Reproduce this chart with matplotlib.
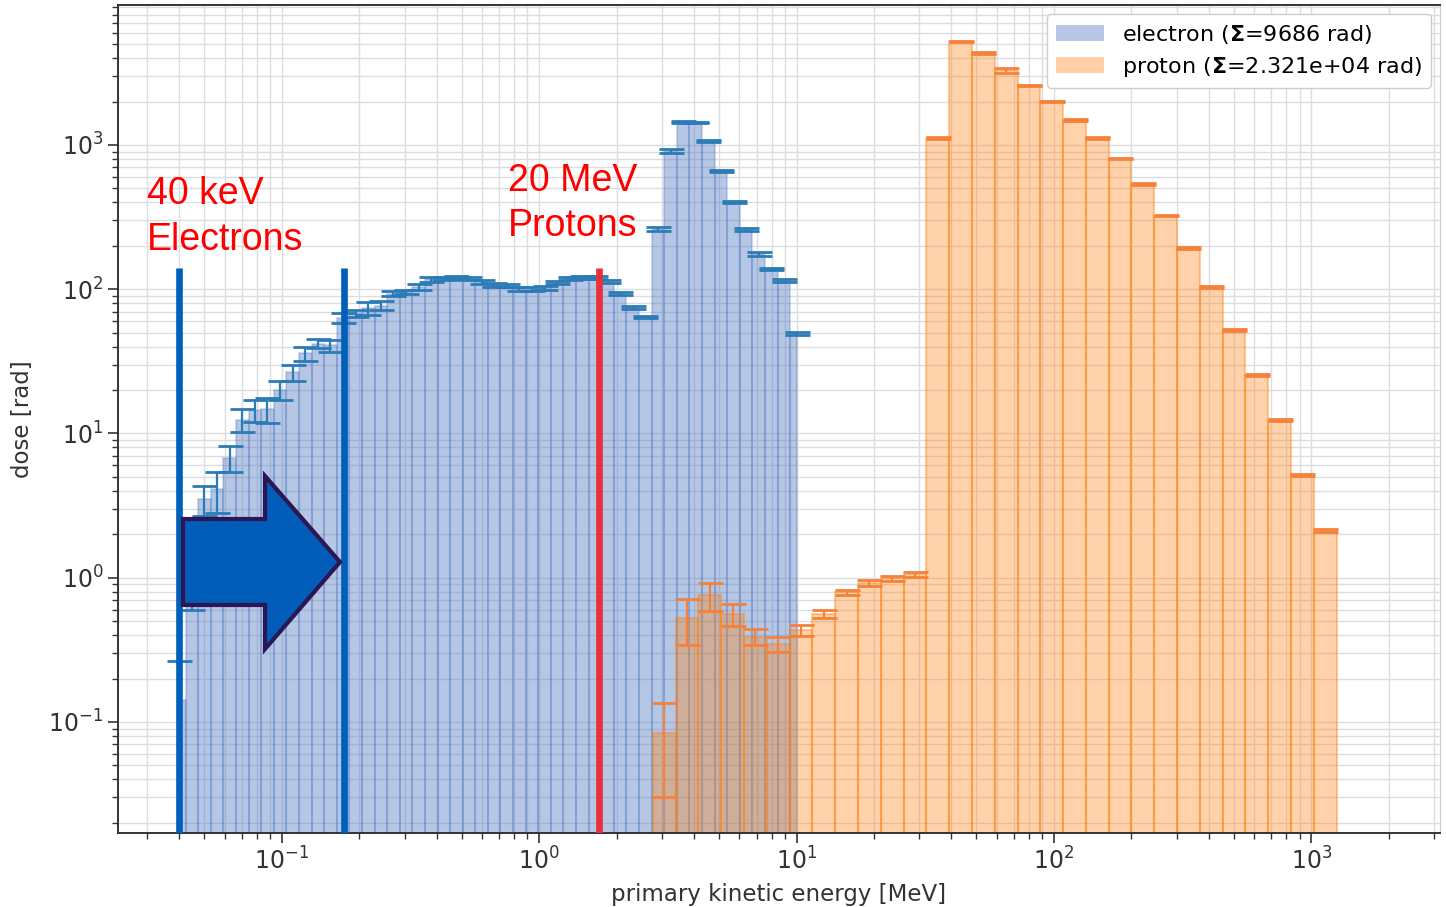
import numpy as np
import matplotlib
matplotlib.use("Agg")
import matplotlib.pyplot as plt
from matplotlib.patches import Patch, Polygon

# electron dose per bin (rad), bin centres log-spaced 0.04 .. 10 MeV
el_dose = [0.14, 0.9, 3.5, 4.1, 6.8, 12.5, 14.5, 14.7, 20, 26.5,
           36, 42, 40.8, 63, 68, 74, 77, 93, 96, 104,
           117, 119, 120, 119, 112, 107, 106, 101, 101, 102,
           111, 119, 121, 120, 113, 93, 75, 64, 262, 908,
           1440, 1440, 1070, 664, 401, 258, 175, 138, 115, 49.5]
el_err = [0.125, 0.3, 0.8, 1.3, 1.4, 2.2, 2.5, 2.8, 3.0, 3.3,
          4.0, 3.0, 3.8, 5.0, 4.0, 8.0, 5.5, 3.5, 3.0, 5.0,
          4, 3, 3, 3, 3, 3, 3, 3, 3, 3,
          3, 3, 3, 3, 3, 2, 2, 1, 8, 25,
          20, 10, 15, 10, 6, 6, 5, 3, 3, 1]

# proton dose per bin (rad), 30 log bins 2.76 .. 1255 MeV
pr_dose = [0.083, 0.525, 0.754, 0.56, 0.39, 0.348, 0.434, 0.56, 0.79, 0.918,
           0.99, 1.057, 1122, 5230, 4325, 3290, 2588, 2005, 1490, 1120,
           805, 535, 324, 194, 104, 52, 25.6, 12.4, 5.13, 2.12]
pr_err = [0.053, 0.185, 0.164, 0.10, 0.05, 0.043, 0.04, 0.033, 0.033, 0.04,
          0.04, 0.04, 15, 60, 55, 110, 35, 25, 20, 15,
          10, 7, 4, 3, 1.5, 0.8, 0.4, 0.2, 0.08, 0.04]

el_label = r"electron ($\mathbf{\Sigma}$=9686 rad)"
pr_label = r"proton ($\mathbf{\Sigma}$=2.321e+04 rad)"

cut_electron = [0.04, 0.174]   # MeV
cut_proton = 1.71              # MeV

# bin geometry
el_centres = np.logspace(np.log10(0.04), 1, len(el_dose))
step = np.log10(el_centres[1] / el_centres[0])
el_edges = 10 ** (np.log10(0.04) + step * (np.arange(len(el_dose) + 1) - 0.5))
el_edges[0], el_edges[-1] = 0.04, 10.0
pr_edges = np.logspace(np.log10(2.763), np.log10(1255), len(pr_dose) + 1)
pr_centres = np.sqrt(pr_edges[:-1] * pr_edges[1:])

W, H = 1446, 907
fig = plt.figure(figsize=(W / 100, H / 100), dpi=100)
ax = fig.add_axes([118 / W, 74 / H, 1322 / W, 828 / H])

ax.set_xscale("log")
ax.set_yscale("log")

ax.bar(el_edges[:-1], el_dose, width=np.diff(el_edges), align="edge", bottom=1e-3,
       facecolor=(0.29, 0.45, 0.75, 0.40), edgecolor=(0.29, 0.45, 0.75, 0.25),
       linewidth=1.5, zorder=2)
ax.errorbar(el_centres, el_dose, yerr=el_err, fmt="none", ecolor="#2b7bb6",
            elinewidth=1.6, capsize=9, capthick=2.0, zorder=3)

ax.bar(pr_edges[:-1], pr_dose, width=np.diff(pr_edges), align="edge", bottom=1e-3,
       facecolor=(1.0, 0.50, 0.055, 0.35), edgecolor=(1.0, 0.50, 0.055, 0.40),
       linewidth=1.5, zorder=2)
ax.errorbar(pr_centres, pr_dose, yerr=pr_err, fmt="none", ecolor="#f5813a",
            elinewidth=1.6, capsize=9, capthick=2.0, zorder=3)

ax.set_xlim(10 ** -1.636, 10 ** 3.5)
ax.set_ylim(0.0170, 9344)

ax.grid(True, which="both", color="#dcdde0", linewidth=1.0, zorder=0)
ax.set_axisbelow(True)
ax.tick_params(which="both", direction="out", colors="#333333", labelsize=17)
ax.tick_params(which="major", length=7, width=1.2)
ax.tick_params(which="minor", length=4, width=1.0)
for s in ["left", "bottom", "top"]:
    ax.spines[s].set_color("#333333")
    ax.spines[s].set_linewidth(1.4)
ax.spines["right"].set_color("#cccccc")

ax.set_xlabel("primary kinetic energy [MeV]", fontsize=16.5, color="#333333", labelpad=6)
ax.set_ylabel("dose [rad]", fontsize=16.5, color="#333333", labelpad=10)

handles = [Patch(facecolor="#b7c7e6", label=el_label),
           Patch(facecolor="#ffd0aa", label=pr_label)]
leg = ax.legend(handles=handles, loc="upper right", fontsize=16, handlelength=2.2,
                labelspacing=0.4, borderaxespad=0.4, framealpha=1.0, edgecolor="#cccccc")
leg.set_zorder(6)

# annotations
ax.vlines(cut_electron, 1e-3, 140, colors="#0060b9", linewidth=4.8, zorder=5)
ax.vlines([cut_proton], 1e-3, 140, colors="#ec2d3a", linewidth=4.8, zorder=5)


def fpt(px, py):
    return px / W, 1 - py / H


arrow_px = [(183, 519), (265, 519), (265, 476), (340, 562), (265, 649), (265, 605), (183, 605)]
arrow = Polygon([fpt(*p) for p in arrow_px], closed=True, transform=fig.transFigure,
                facecolor="#015db8", edgecolor="#2c1656", linewidth=3, zorder=7)
fig.patches.append(arrow)

red_font = dict(color="#ff0000", fontsize=27, family="Liberation Sans", va="baseline")
fig.text(*fpt(147, 204), "40 keV", **red_font)
fig.text(*fpt(147, 250), "Electrons", **red_font)
fig.text(*fpt(508, 191), "20 MeV", **red_font)
fig.text(*fpt(508, 236), "Protons", **red_font)

fig.savefig("out.png", dpi=100)
